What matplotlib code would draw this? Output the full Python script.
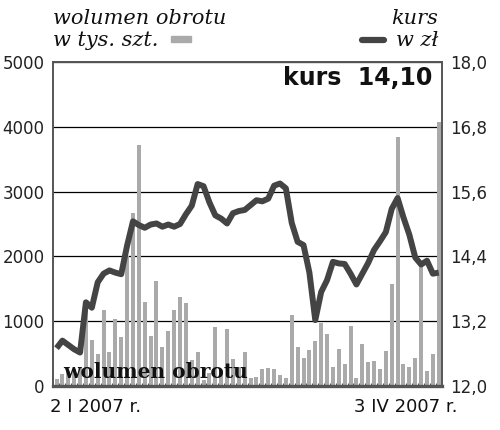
import matplotlib
matplotlib.use("Agg")
import matplotlib.pyplot as plt
import numpy as np

# --- data -------------------------------------------------------------
volume = [110, 185, 230, 260, 300, 1170, 710, 490, 1180, 520,
          1030, 750, 2000, 2670, 3720, 1290, 770, 1620, 600, 850,
          1170, 1370, 1280, 400, 520, 100, 200, 910, 250, 880,
          420, 300, 520, 120, 140, 270, 275, 260, 168, 120,
          1100, 605, 430, 550, 690, 965, 810, 300, 570, 345,
          930, 118, 655, 365, 380, 255, 545, 1570, 3850, 345,
          290, 430, 1850, 230, 500, 4080]
price = [12.70, 12.84, 12.76, 12.68, 12.62, 13.55, 13.45, 13.92, 14.08, 14.14,
         14.10, 14.07, 14.60, 15.05, 14.98, 14.93, 14.99, 15.01, 14.95, 14.99,
         14.95, 15.00, 15.18, 15.34, 15.74, 15.70, 15.40, 15.16, 15.10, 15.01,
         15.20, 15.24, 15.26, 15.35, 15.44, 15.42, 15.47, 15.71, 15.75, 15.66,
         15.02, 14.67, 14.61, 14.10, 13.22, 13.74, 13.96, 14.30, 14.27, 14.26,
         14.08, 13.88, 14.08, 14.28, 14.52, 14.68, 14.85, 15.28, 15.48, 15.12,
         14.80, 14.38, 14.25, 14.32, 14.08, 14.10]
vol_ticks = [0, 1000, 2000, 3000, 4000, 5000]
vol_labels = ["0", "1000", "2000", "3000", "4000", "5000"]
price_ticks = [12.0, 13.2, 14.4, 15.6, 16.8, 18.0]
price_labels = ["12,0", "13,2", "14,4", "15,6", "16,8", "18,0"]
date_start = "2 I 2007 r."
date_end = "3 IV 2007 r."
last_price = "14,10"

BAR = "#aaaaaa"
LINE = "#444444"
SPINE = "#555555"

fig = plt.figure(figsize=(5.0, 4.3), dpi=100)
ax = fig.add_axes([53/500, 1-386/430, (442-53)/500, (386-62)/430])
x = np.arange(len(volume))

ax.set_axisbelow(True)
ax.yaxis.grid(True, color="black", linewidth=0.9)
ax.bar(x, volume, width=0.68, color=BAR, zorder=2)
ax.set_xlim(-0.6, len(volume) - 0.45)
ax.set_ylim(0, 5000)
ax.set_yticks(vol_ticks)
ax.set_yticklabels(vol_labels, fontsize=12, color="#222222")
ax.tick_params(axis="y", length=0, pad=6)
ax.set_xticks(x + 0.5)
ax.set_xticklabels([])
ax.tick_params(axis="x", length=2.5, width=0.8, color=SPINE, direction="in")
for side in ["left", "top", "right"]:
    ax.spines[side].set_color(SPINE)
    ax.spines[side].set_linewidth(1.4)
ax.spines["bottom"].set_color(SPINE)
ax.spines["bottom"].set_linewidth(2.4)

ax2 = ax.twinx()
ax2.plot(x, price, color=LINE, linewidth=4.3, solid_joinstyle="round",
         solid_capstyle="butt", zorder=3)
ax2.set_ylim(12.0, 18.0)
ax2.set_yticks(price_ticks)
ax2.set_yticklabels(price_labels, fontsize=12, color="#222222")
ax2.tick_params(axis="y", length=0, pad=6)
for s in ax2.spines.values():
    s.set_visible(False)

# texts inside plot
ax.text((63-53)/389, 1-(378-62)/324, "wolumen obrotu", transform=ax.transAxes,
        fontsize=14.5, fontweight="bold", family="DejaVu Serif",
        ha="left", va="baseline", color="#111111", zorder=5)
ax.text((432-53)/389, 1-(85-62)/324, "kurs  " + last_price, transform=ax.transAxes,
        fontsize=17, fontweight="bold", family="DejaVu Sans",
        ha="right", va="baseline", color="#111111", zorder=5)

# header
HF = 15
fig.text(53/500, 1-24/430, "wolumen obrotu", fontsize=HF, style="italic",
         family="DejaVu Serif", ha="left", va="baseline", color="#111111")
fig.text(53/500, 1-46/430, "w tys. szt.", fontsize=HF, style="italic",
         family="DejaVu Serif", ha="left", va="baseline", color="#111111")
fig.patches.append(plt.Rectangle((171/500, 1-42/430), 20/500, 6/430,
                                 transform=fig.transFigure, color=BAR))
fig.text(438/500, 1-24/430, "kurs", fontsize=HF, style="italic",
         family="DejaVu Serif", ha="right", va="baseline", color="#111111")
fig.text(438/500, 1-46/430, "w zł", fontsize=HF, style="italic",
         family="DejaVu Serif", ha="right", va="baseline", color="#111111")
fig.lines.append(plt.Line2D([362/500, 384/500], [1-40/430, 1-40/430],
                            transform=fig.transFigure, color=LINE,
                            linewidth=4.5, solid_capstyle="round"))

# date labels
fig.text(50/500, 1-412/430, date_start, fontsize=13, family="DejaVu Sans",
         ha="left", va="baseline", color="#111111")
fig.text(458/500, 1-412/430, date_end, fontsize=13, family="DejaVu Sans",
         ha="right", va="baseline", color="#111111")

fig.savefig("out.png", dpi=100, facecolor="white")
